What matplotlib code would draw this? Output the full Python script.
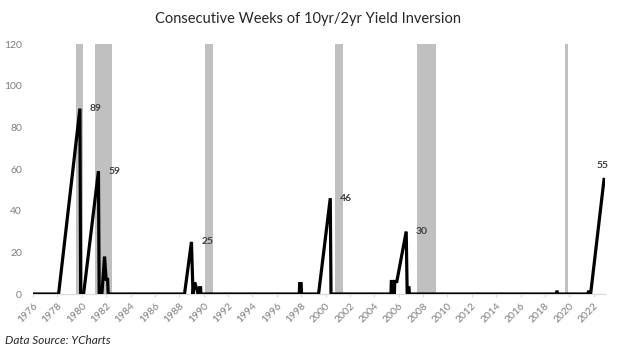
import matplotlib
matplotlib.use("Agg")
import matplotlib.pyplot as plt
import numpy as np

plt.rcParams['font.family'] = ['Lato', 'DejaVu Sans']

# weekly series, key vertices (decimal year, consecutive weeks inverted)
week_year = [1976.45, 1978.55, 1980.30, 1980.36, 1980.60, 1981.82, 1981.88,
             1982.10, 1982.32, 1982.45, 1982.57, 1982.62,
             1988.88, 1989.45, 1989.58, 1989.66, 1989.75, 1989.90, 1989.98,
             1990.10, 1990.12, 1990.20, 1990.22,
             1998.30, 1998.33, 1998.45, 1998.48,
             1999.88, 2000.84, 2000.90,
             2005.82, 2005.85, 2005.95, 2005.98, 2006.10, 2006.13, 2006.30,
             2007.07, 2007.15, 2007.20, 2007.22, 2007.30, 2007.33,
             2019.40, 2019.42, 2019.46, 2019.48,
             2022.00, 2022.02, 2022.08, 2022.12, 2022.20, 2023.30]
week_count = [0, 0, 89, 0, 0, 59, 0,
              0, 18, 7, 7, 0,
              0, 25, 0, 5, 5, 2, 0,
              0, 3, 3, 0,
              0, 5, 5, 0,
              0, 46, 0,
              0, 6, 6, 0, 0, 6, 6,
              30, 0, 0, 3, 3, 0,
              0, 1, 1, 0,
              0, 1, 1, 0, 0, 55]

# recessions (start, end)
rec_start = [1980.00, 1981.55, 1990.55, 2001.20, 2007.95, 2020.08]
rec_end = [1980.55, 1982.90, 1991.20, 2001.90, 2009.50, 2020.33]

peak_labels = [89, 59, 25, 46, 30, 55]
tick_years = list(range(1976, 2023, 2))

fig = plt.figure(figsize=(6.19, 3.53), dpi=100)
ax = fig.add_axes([33 / 619, 1 - 294 / 353, 572 / 619, 250 / 353])

for s, e in zip(rec_start, rec_end):
    ax.axvspan(s, e, ymin=0, ymax=1, color='#c0c0c0', lw=0, zorder=1)

ax.plot(week_year, week_count, color='black', lw=2.3, solid_joinstyle='miter', zorder=3)

for v in peak_labels:
    i = week_count.index(v)
    x, y = week_year[i], week_count[i]
    if v == 55:
        ax.annotate(str(v), (x, y), xytext=(-1, 7), textcoords='offset points',
                    ha='center', va='bottom', fontsize=7.5, fontweight='bold', color='#404040')
    else:
        ax.annotate(str(v), (x, y), xytext=(7, 0), textcoords='offset points',
                    ha='left', va='center', fontsize=7.5, fontweight='bold', color='#404040')

ax.set_xlim(1976.45, 2023.38)
ax.set_ylim(0, 120)
ax.set_yticks(range(0, 121, 20))
ax.set_xticks([y + 0.45 for y in tick_years])
ax.set_xticklabels([str(y) for y in tick_years], rotation=45, ha='right',
                   rotation_mode='anchor')

for sp in ['top', 'right', 'left']:
    ax.spines[sp].set_visible(False)
ax.spines['bottom'].set_color('#d9d9d9')
ax.spines['bottom'].set_zorder(2)
ax.tick_params(axis='y', length=0, labelsize=7.5, labelcolor='#7f7f7f', pad=8)
ax.tick_params(axis='x', length=2, color='#d9d9d9', labelsize=7.5, labelcolor='#7f7f7f', pad=3)

fig.text(0.497, 1 - 19 / 353, 'Consecutive Weeks of 10yr/2yr Yield Inversion',
         ha='center', va='center', fontsize=10.5, color='#262626')
fig.text(5 / 619, 1 - 341 / 353, 'Data Source: YCharts', ha='left', va='center',
         fontsize=8.5, style='italic', color='#262626')

fig.savefig('out.png', dpi=100)
